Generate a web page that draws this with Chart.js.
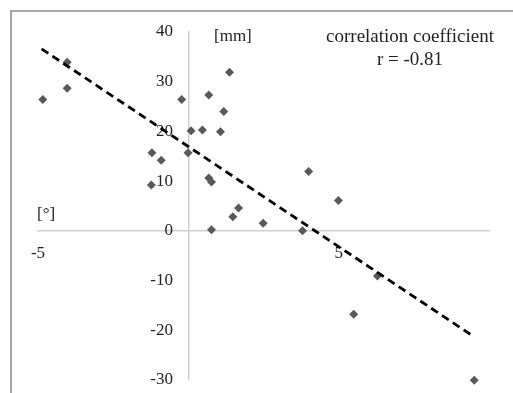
<!DOCTYPE html>
<html>
<head>
<meta charset="utf-8">
<script src="https://cdn.jsdelivr.net/npm/chart.js@4/dist/chart.umd.min.js"></script>
<style>
  html, body { margin: 0; padding: 0; background: #fff; }
  #wrap { width: 513px; height: 393px; }
</style>
</head>
<body>
<div id="wrap"><canvas id="grafica" width="513" height="393"></canvas></div>
<script>
// datos: ángulo [°] frente a desplazamiento [mm]
var puntosX = [-4.84, -4.03, -4.03, -1.23, -1.21, -0.9, -0.22, -0.01, 0.09, 0.47, 0.68, 0.68, 0.77,
               0.77, 1.07, 1.18, 1.37, 1.48, 1.67, 2.49, 3.8, 4.0, 4.99, 5.5, 6.29, 9.51];
var puntosY = [26.4, 33.9, 28.7, 9.2, 15.7, 14.2, 26.4, 15.7, 20.1, 20.3, 27.3, 10.6, 9.8,
               0.2, 19.9, 24.0, 31.9, 2.8, 4.6, 1.5, 0, 11.9, 6.1, -16.8, -9.1, -30.1];
// extremos de la línea de tendencia
var tendenciaX = [-4.88, 9.42];
var tendenciaY = [36.6, -21.0];
var ticksX = [-5, 5];
var ticksY = [-30, -20, -10, 0, 10, 20, 30, 40];

var serif = "'Liberation Serif', 'Times New Roman', serif";

// textos sobre el gráfico y marco exterior
var textos = {
  id: 'textos',
  beforeDraw: function (chart) {
    var c = chart.ctx;
    c.save();
    c.strokeStyle = '#a6a6a6';
    c.lineWidth = 2;
    c.beginPath();
    c.moveTo(11, 393);
    c.lineTo(11, 11);
    c.lineTo(513, 11);
    c.stroke();
    c.restore();
  },
  afterDraw: function (chart) {
    var c = chart.ctx;
    c.save();
    c.fillStyle = '#222';
    c.textBaseline = 'middle';
    c.textAlign = 'left';
    c.font = '17px ' + serif;
    c.fillText('[mm]', 214, 37);
    c.fillText('[°]', 37, 215);
    c.textAlign = 'center';
    c.font = '19px ' + serif;
    c.fillText('correlation coefficient', 410, 37);
    c.fillText('r = -0.81', 410, 60);
    c.restore();
  }
};

var ctx = document.getElementById('grafica').getContext('2d');
var myChart = new Chart(ctx, {
  data: {
    datasets: [
      {
        type: 'line',
        data: tendenciaX.map(function (x, i) { return { x: x, y: tendenciaY[i] }; }),
        borderColor: '#000',
        borderWidth: 2.8,
        borderDash: [8, 5],
        pointRadius: 0,
        fill: false,
        order: 0
      },
      {
        type: 'scatter',
        data: puntosX.map(function (x, i) { return { x: x, y: puntosY[i] }; }),
        pointStyle: 'rectRot',
        pointRadius: 4.5,
        backgroundColor: '#595959',
        borderColor: '#595959',
        borderWidth: 0,
        clip: false,
        order: 1
      }
    ]
  },
  options: {
    responsive: false,
    animation: false,
    events: [],
    layout: { padding: { left: 38, top: 32, right: 24, bottom: 4 } },
    plugins: { legend: { display: false }, tooltip: { enabled: false } },
    scales: {
      x: {
        type: 'linear',
        position: { y: 0 },
        min: -5, max: 10,
        afterBuildTicks: function (axis) {
          axis.ticks = ticksX.map(function (v) { return { value: v }; });
        },
        grid: { display: false, drawTicks: false },
        border: { color: '#d0d0d0', width: 1.5 },
        ticks: { padding: 13, color: '#222', font: { family: serif, size: 17 }, maxRotation: 0 }
      },
      y: {
        type: 'linear',
        position: { x: 0 },
        min: -30, max: 40,
        afterBuildTicks: function (axis) {
          axis.ticks = ticksY.map(function (v) { return { value: v }; });
        },
        grid: { display: false, drawTicks: false },
        border: { color: '#d0d0d0', width: 1.5 },
        ticks: {
          color: '#222',
          font: { family: serif, size: 17 },
          // con la posición {x: 0} no se aplica el padding: se separa con espacios
          callback: function (v) { return v + '\u2002\u2009\u2009'; }
        }
      }
    }
  },
  plugins: [textos]
});
</script>
</body>
</html>
